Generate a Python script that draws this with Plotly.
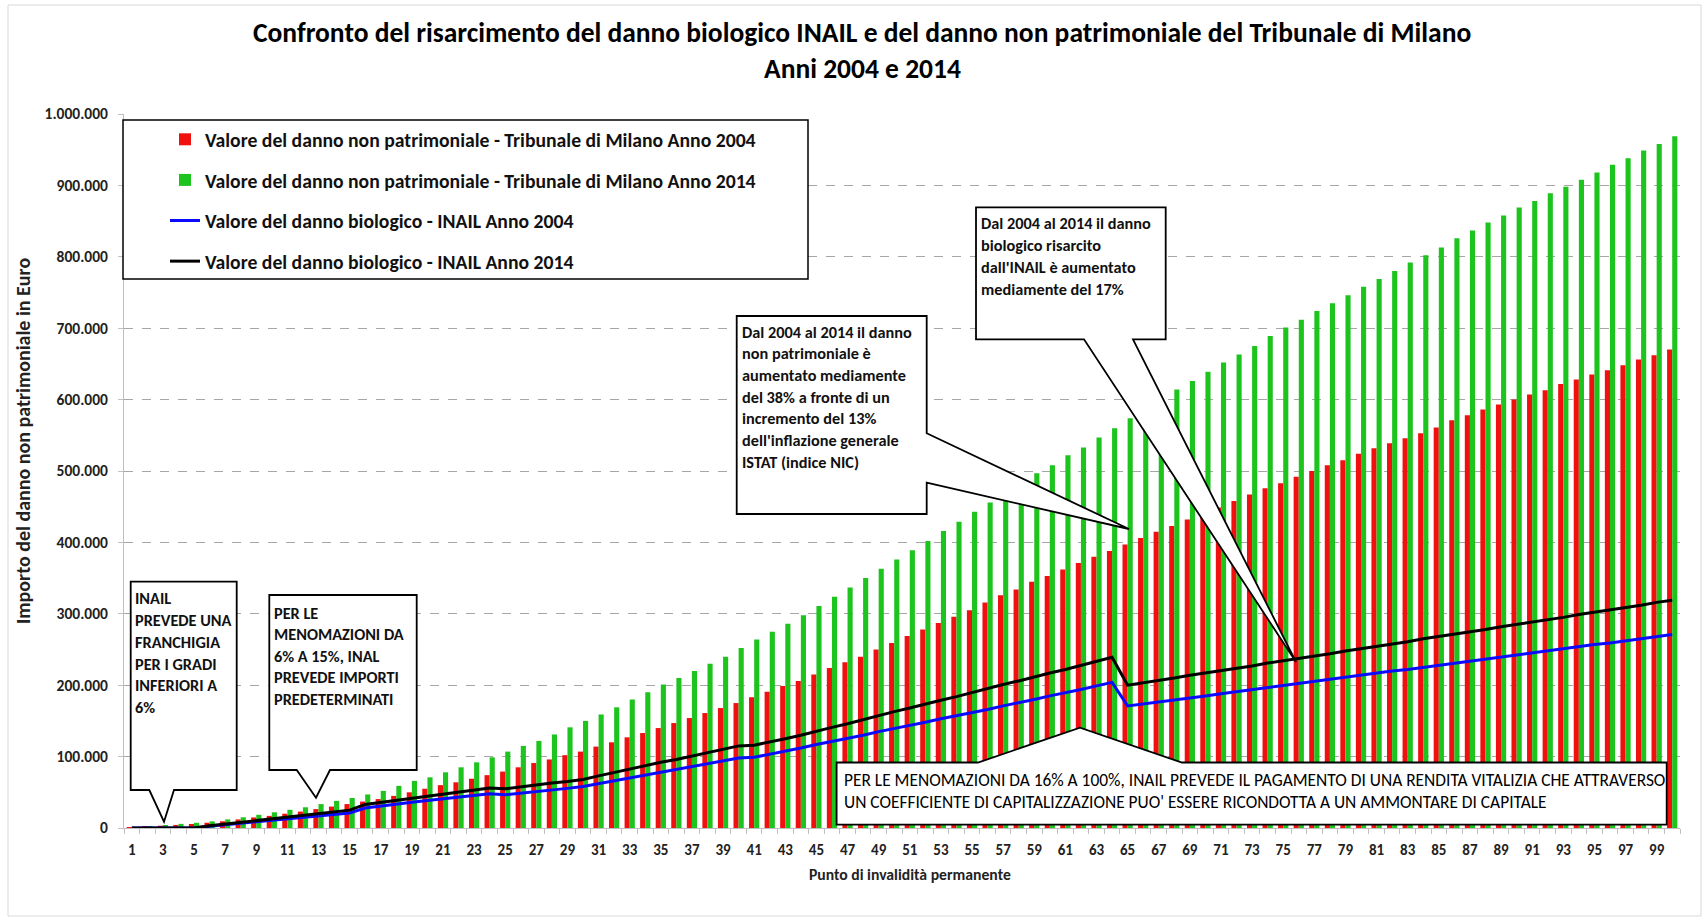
import plotly.graph_objects as go

# ---------------- data ----------------
punti = list(range(1, 101))

milano_2004 = [
    1000, 2100, 3200, 4300, 5600, 7400, 9400, 12000, 14800, 17000,
    20000, 23000, 26500, 30000, 33500, 37000, 40500, 45000, 50000, 55000,
    60000, 64000, 69000, 74000, 79000, 85000, 91000, 96000, 102000, 107000,
    114000, 120000, 127000, 133000, 140000, 147000, 154000, 161000, 168000, 175000,
    183000, 191000, 199000, 206000, 215000, 224000, 232000, 240000, 250000, 259000,
    269000, 278000, 287000, 296000, 305000, 316000, 326000, 334000, 345000, 353000,
    362000, 371000, 380000, 388000, 397000, 406000, 415000, 423000, 432000, 440000,
    449000, 458000, 467000, 476000, 483000, 492000, 500000, 508000, 515000, 524000,
    532000, 539000, 546000, 553000, 561000, 571000, 578000, 586000, 593000, 600000,
    607000, 613000, 622000, 628000, 635000, 641000, 648000, 656000, 662000, 670000,
]

milano_2014 = [
    1300, 2700, 4200, 5800, 7300, 9300, 12000, 15000, 18500, 22000,
    25500, 29000, 33500, 38000, 42000, 47000, 52000, 59000, 66000, 71000,
    78000, 85000, 92000, 99000, 107000, 115000, 122000, 131000, 141000, 150000,
    159000, 169000, 180000, 190000, 201000, 210000, 220000, 230000, 240000, 252000,
    264000, 275000, 286000, 298000, 311000, 324000, 337000, 350000, 363000, 376000,
    389000, 402000, 416000, 429000, 443000, 456000, 470000, 484000, 497000, 508000,
    522000, 533000, 547000, 560000, 574000, 588000, 601000, 614000, 626000, 639000,
    652000, 663000, 675000, 689000, 701000, 712000, 724000, 735000, 746000, 758000,
    769000, 780000, 792000, 802000, 813000, 826000, 837000, 848000, 858000, 869000,
    878000, 889000, 898000, 908000, 918000, 929000, 938000, 949000, 958000, 969000,
]

inail_2004 = [
    0, 0, 0, 0, 0, 2500, 4500, 6500, 8500, 10500,
    12500, 14500, 16500, 18500, 21000, 28000, 31000, 33500, 36000, 38500,
    41000, 43000, 45500, 48000, 46500, 48500, 50500, 53000, 55500, 58000,
    62000, 66000, 70000, 74000, 78000, 82000, 86000, 90000, 94000, 98000,
    99000, 103000, 108000, 112000, 117000, 121000, 126000, 130000, 135000, 139000,
    144000, 148000, 153000, 157000, 162000, 166000, 171000, 175000, 180000, 185000,
    189000, 194000, 199000, 204000, 171000, 174000, 177000, 180000, 183000, 185000,
    188000, 191000, 194000, 197000, 200000, 203000, 205000, 208000, 211000, 214000,
    217000, 220000, 222000, 225000, 228000, 231000, 234000, 237000, 240000, 242000,
    245000, 248000, 251000, 254000, 257000, 259000, 262000, 265000, 268000, 271000,
]

inail_2014 = [
    0, 0, 0, 0, 0, 3000, 5500, 8000, 10000, 12500,
    15000, 17000, 19500, 22000, 25000, 33000, 36000, 39000, 42000, 45000,
    48000, 50000, 53000, 56000, 55000, 58000, 60000, 63000, 65000, 68000,
    73000, 78000, 82000, 87000, 92000, 96000, 101000, 105000, 110000, 115000,
    116000, 120000, 125000, 130000, 136000, 141000, 146000, 152000, 157000, 163000,
    168000, 174000, 179000, 184000, 190000, 195000, 201000, 206000, 212000, 217000,
    222000, 228000, 233000, 239000, 200000, 203000, 207000, 210000, 214000, 217000,
    220000, 224000, 227000, 231000, 234000, 237000, 241000, 244000, 248000, 251000,
    254000, 258000, 261000, 265000, 268000, 271000, 275000, 278000, 282000, 285000,
    288000, 292000, 295000, 299000, 302000, 305000, 309000, 312000, 316000, 319000,
]

x_ticks = list(range(1, 100, 2))
y_ticks = list(range(0, 1000001, 100000))

nomi = [
    "Valore del danno non patrimoniale - Tribunale di Milano Anno 2004",
    "Valore del danno non patrimoniale - Tribunale di Milano Anno 2014",
    "Valore del danno biologico - INAIL Anno 2004",
    "Valore del danno biologico - INAIL Anno 2014",
]

titolo = ["Confronto del risarcimento del danno biologico INAIL e del danno non patrimoniale del Tribunale di Milano",
          "Anni 2004 e 2014"]

# ---------------- layout helpers (pixel -> paper) ----------------
W, H = 1708, 921
L, R, T, B = 124, 1680, 114, 828


def px(x):
    return (x - L) / (R - L)


def py(y):
    return (B - y) / (B - T)


FONT = "Carlito, Calibri, Lato, sans-serif"
RED = "#f01010"
GREEN = "#1ec41e"

fig = go.Figure()
fig.add_trace(go.Bar(x=punti, y=milano_2004, name=f"<b>{nomi[0]}</b>", marker_color=RED,
                     marker_line_width=0, legendgroup="a"))
fig.add_trace(go.Bar(x=punti, y=milano_2014, name=f"<b>{nomi[1]}</b>", marker_color=GREEN,
                     marker_line_width=0, legendgroup="b"))
fig.add_trace(go.Scatter(x=punti, y=inail_2004, name=f"<b>{nomi[2]}</b>", mode="lines",
                         line=dict(color="#0a0aff", width=3), legendgroup="c"))
fig.add_trace(go.Scatter(x=punti, y=inail_2014, name=f"<b>{nomi[3]}</b>", mode="lines",
                         line=dict(color="#000000", width=3), legendgroup="d"))

shapes = []


def poly(points, width=1.8):
    d = "M " + " L ".join(f"{px(a):.5f},{py(b):.5f}" for a, b in points) + " Z"
    shapes.append(dict(type="path", xref="paper", yref="paper", path=d,
                       line=dict(color="black", width=width), fillcolor="white",
                       layer="above"))


# chart outer border
shapes.append(dict(type="rect", xref="paper", yref="paper",
                   x0=px(8), x1=px(1701), y0=py(5), y1=py(916),
                   line=dict(color="#d9d9d9", width=1), layer="below"))

# legend frame
poly([(123, 120), (808, 120), (808, 279), (123, 279)], width=1.5)
# callouts
poly([(130.7, 581.7), (236.7, 581.7), (236.7, 790), (174, 790), (164, 821.7),
      (149.3, 790), (130.7, 790)])
poly([(269.3, 595), (416.7, 595), (416.7, 770), (330, 770), (316, 797.7),
      (296.7, 770), (269.3, 770)])
poly([(736.7, 316), (926.7, 316), (926.7, 433.3), (1129, 529), (926.7, 482.7),
      (926.7, 514), (736.7, 514)])
poly([(976, 207.3), (1165.7, 207.3), (1165.7, 339.3), (1133, 339.3), (1296, 662),
      (1084, 339.3), (976, 339.3)])
poly([(836.6, 762.5), (978, 762.5), (1080, 727.7), (1182, 762.5), (1666.7, 762.5),
      (1666.7, 824.6), (836.6, 824.6)])

annotations = []


def text_lines(lines, x0, ys, size, bold=True, color="#111"):
    for s, y in zip(lines, ys):
        annotations.append(dict(
            text=f"<b>{s}</b>" if bold else s, xref="paper", yref="paper",
            x=px(x0), y=py(y), xanchor="left", yanchor="middle", showarrow=False,
            font=dict(family=FONT, size=size, color=color)))


text_lines(["INAIL", "PREVEDE UNA", "FRANCHIGIA", "PER I GRADI", "INFERIORI A", "6%"],
           133, [598, 620, 642, 663.5, 685, 706.5], 16.3)
text_lines(["PER LE", "MENOMAZIONI DA", "6% A 15%, INAL", "PREVEDE IMPORTI", "PREDETERMINATI"],
           272, [612.7, 634, 655.5, 677, 698.5], 16.3)
text_lines(["Dal 2004 al 2014 il danno", "non patrimoniale è", "aumentato mediamente",
            "del 38% a fronte di un", "incremento del 13%", "dell'inflazione generale",
            "ISTAT (indice NIC)"],
           740, [331.7, 353.3, 375, 396.7, 418.3, 440, 461.7], 16.3)
text_lines(["Dal 2004 al 2014 il danno", "biologico risarcito", "dall'INAIL è aumentato",
            "mediamente del 17%"],
           979, [223.3, 245, 267.3, 289.3], 16.3)
text_lines(["PER LE MENOMAZIONI DA 16% A 100%, INAIL PREVEDE IL PAGAMENTO DI UNA RENDITA VITALIZIA CHE ATTRAVERSO",
            "UN COEFFICIENTE DI CAPITALIZZAZIONE PUO' ESSERE RICONDOTTA A UN AMMONTARE DI CAPITALE"],
           842, [780, 801.7], 17.4, bold=False, color="#000")

# title
for txt, yy in zip(titolo, [33, 68]):
    annotations.append(dict(text=f"<b>{txt}</b>", xref="paper", yref="paper",
                            x=px(862), y=py(yy), xanchor="center", yanchor="middle",
                            showarrow=False, font=dict(family=FONT, size=27.5, color="#000")))
# axis titles
annotations.append(dict(text="<b>Importo del danno non patrimoniale in Euro</b>",
                        xref="paper", yref="paper", x=px(23), y=py(441),
                        xanchor="center", yanchor="middle", textangle=-90, showarrow=False,
                        font=dict(family=FONT, size=20, color="#222")))
annotations.append(dict(text="<b>Punto di invalidità permanente</b>",
                        xref="paper", yref="paper", x=px(910), y=py(874),
                        xanchor="center", yanchor="middle", showarrow=False,
                        font=dict(family=FONT, size=15.7, color="#222")))

fig.update_layout(
    width=W, height=H,
    margin=dict(l=L, r=W - R, t=T, b=H - B, pad=0),
    paper_bgcolor="white", plot_bgcolor="white",
    separators=",.",
    barmode="group", bargap=0.34, bargroupgap=0,
    showlegend=True,
    legend=dict(x=px(165), y=py(120), xanchor="left", yanchor="top",
                bgcolor="rgba(0,0,0,0)", borderwidth=0, tracegroupgap=12,
                font=dict(family=FONT, size=19.7, color="#111"),
                traceorder="grouped"),
    shapes=shapes,
    annotations=annotations,
    font=dict(family=FONT),
)

fig.update_xaxes(
    range=[0.5, 100.5], tickmode="array", tickvals=x_ticks,
    ticktext=[f"<b>{v}</b>" for v in x_ticks], ticks="",
    tickfont=dict(family=FONT, size=15, color="#222"),
    ticklabelstandoff=8,
    showline=True, linecolor="#bfbfbf", linewidth=1,
    showgrid=False, zeroline=False,
    minor=dict(tickmode="linear", tick0=0.5, dtick=1, ticks="outside",
               ticklen=5, tickcolor="#bfbfbf", showgrid=False),
)
fig.update_yaxes(
    range=[0, 1000000], tickmode="array", tickvals=y_ticks,
    ticktext=["<b>" + f"{v:,d}".replace(",", ".") + "</b>" for v in y_ticks],
    ticks="outside", ticklen=5, tickcolor="#bfbfbf",
    tickfont=dict(family=FONT, size=15.5, color="#222"),
    ticklabelstandoff=7,
    showline=True, linecolor="#bfbfbf", linewidth=1,
    showgrid=True, gridcolor="#a6a6a6", griddash="dash", gridwidth=1,
    zeroline=False,
)

fig.write_html("out.html", config={"displayModeBar": False},
               post_script="document.body.style.margin='0';")
